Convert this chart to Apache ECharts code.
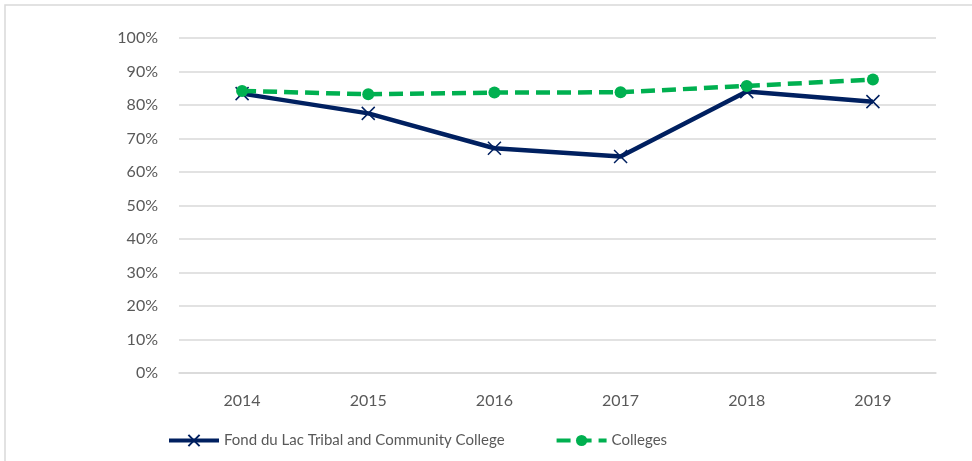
<!DOCTYPE html>
<html>
<head>
<meta charset="utf-8">
<script src="https://cdn.jsdelivr.net/npm/echarts@6/dist/echarts.min.js"></script>
<style>
  html, body { margin: 0; padding: 0; background: #fff; }
  #chart { width: 972px; height: 461px; }
</style>
</head>
<body>
<div id="chart"></div>
<script>
var years = ['2014', '2015', '2016', '2017', '2018', '2019'];
var fondDuLac = [83.4, 77.5, 67.1, 64.6, 84.0, 81.0];
var colleges = [84.2, 83.2, 83.7, 83.8, 85.7, 87.6];

var chart = echarts.init(document.getElementById('chart'));
var font = 'Lato';

var option = {
  animation: false,
  backgroundColor: '#fff',
  textStyle: { fontFamily: font },
  graphic: [{
    type: 'rect',
    shape: { x: 5, y: 5, width: 980, height: 480 },
    style: { fill: 'none', stroke: '#d9d9d9', lineWidth: 1.5 },
    silent: true
  }],
  grid: { left: 179, right: 36, top: 38, bottom: 88 },
  legend: {
    left: 162,
    top: 428,
    itemWidth: 50,
    itemHeight: 14,
    itemGap: 50,
    lineStyle: { width: 4 },
    textStyle: { color: '#595959', fontSize: 15, fontFamily: font },
    data: ['Fond du Lac Tribal and Community College', 'Colleges']
  },
  xAxis: {
    type: 'category',
    data: years,
    axisLine: { lineStyle: { color: '#d9d9d9', width: 1.5 } },
    axisTick: { show: false },
    axisLabel: { color: '#595959', fontSize: 16, margin: 20 }
  },
  yAxis: {
    type: 'value',
    min: 0,
    max: 100,
    interval: 10,
    axisLine: { show: false },
    axisTick: { show: false },
    splitLine: { lineStyle: { color: '#d9d9d9', width: 1.5 } },
    axisLabel: { color: '#595959', fontSize: 16, margin: 21, formatter: '{value}%' }
  },
  series: [
    {
      name: 'Fond du Lac Tribal and Community College',
      type: 'line',
      data: fondDuLac,
      symbol: 'path://M0,0L10,10M10,0L0,10',
      symbolSize: 13,
      lineStyle: { color: '#002060', width: 4.5 },
      itemStyle: { color: '#002060', borderColor: '#002060', borderWidth: 1.5 },
      z: 3
    },
    {
      name: 'Colleges',
      type: 'line',
      data: colleges,
      symbol: 'circle',
      symbolSize: 12,
      lineStyle: { color: '#00b050', width: 4.5, type: [14, 7] },
      itemStyle: { color: '#00b050', borderWidth: 0 },
      z: 4
    }
  ]
};
chart.setOption(option);
window.addEventListener('resize', function () {
  chart.resize();
});
</script>
</body>
</html>
